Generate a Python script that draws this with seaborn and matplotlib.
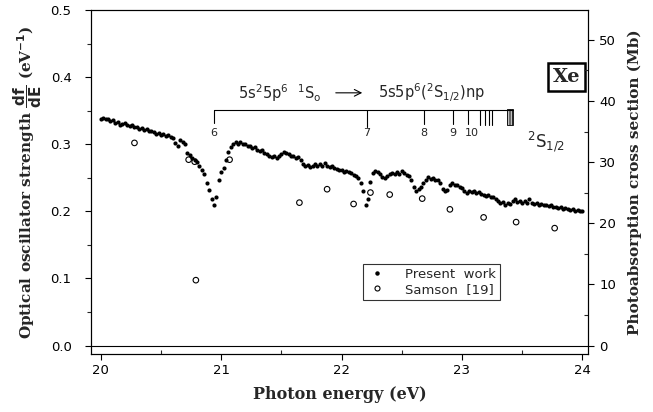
import matplotlib
matplotlib.use("Agg")
import numpy as np
import pandas as pd
import seaborn as sns
import matplotlib.pyplot as plt
from matplotlib.patches import Rectangle
from matplotlib.lines import Line2D
from matplotlib.ticker import MultipleLocator, FormatStrFormatter

# ---------------- data ----------------
energy = [
    20.00, 20.02, 20.04, 20.06, 20.08, 20.10, 20.12, 20.14, 20.16, 20.18,
    20.20, 20.22, 20.24, 20.26, 20.28, 20.30, 20.32, 20.34, 20.36, 20.38,
    20.40, 20.42, 20.44, 20.46, 20.48, 20.50, 20.52, 20.54, 20.56, 20.58,
    20.60, 20.62, 20.64, 20.66, 20.68, 20.70, 20.72, 20.74, 20.76, 20.78,
    20.80, 20.82, 20.84, 20.86, 20.88, 20.90, 20.92, 20.94, 20.96, 20.98,
    21.00, 21.02, 21.04, 21.06, 21.08, 21.10, 21.12, 21.14, 21.16, 21.18,
    21.20, 21.22, 21.24, 21.26, 21.28, 21.30, 21.32, 21.34, 21.36, 21.38,
    21.40, 21.42, 21.44, 21.46, 21.48, 21.50, 21.52, 21.54, 21.56, 21.58,
    21.60, 21.62, 21.64, 21.66, 21.68, 21.70, 21.72, 21.74, 21.76, 21.78,
    21.80, 21.82, 21.84, 21.86, 21.88, 21.90, 21.92, 21.94, 21.96, 21.98,
    22.00, 22.02, 22.04, 22.06, 22.08, 22.10, 22.12, 22.14, 22.16, 22.18,
    22.20, 22.22, 22.24, 22.26, 22.28, 22.30, 22.32, 22.34, 22.36, 22.38,
    22.40, 22.42, 22.44, 22.46, 22.48, 22.50, 22.52, 22.54, 22.56, 22.58,
    22.60, 22.62, 22.64, 22.66, 22.68, 22.70, 22.72, 22.74, 22.76, 22.78,
    22.80, 22.82, 22.84, 22.86, 22.88, 22.90, 22.92, 22.94, 22.96, 22.98,
    23.00, 23.02, 23.04, 23.06, 23.08, 23.10, 23.12, 23.14, 23.16, 23.18,
    23.20, 23.22, 23.24, 23.26, 23.28, 23.30, 23.32, 23.34, 23.36, 23.38,
    23.40, 23.42, 23.44, 23.46, 23.48, 23.50, 23.52, 23.54, 23.56, 23.58,
    23.60, 23.62, 23.64, 23.66, 23.68, 23.70, 23.72, 23.74, 23.76, 23.78,
    23.80, 23.82, 23.84, 23.86, 23.88, 23.90, 23.92, 23.94, 23.96, 23.98,
    24.00,
]
dfdE = [
    0.338, 0.339, 0.337, 0.338, 0.335, 0.336, 0.332, 0.333, 0.329, 0.330,
    0.332, 0.329, 0.327, 0.328, 0.325, 0.326, 0.323, 0.324, 0.321, 0.322,
    0.319, 0.320, 0.318, 0.316, 0.317, 0.314, 0.315, 0.313, 0.314, 0.311,
    0.310, 0.302, 0.297, 0.306, 0.304, 0.300, 0.287, 0.284, 0.279, 0.276,
    0.273, 0.268, 0.262, 0.256, 0.243, 0.232, 0.218, 0.209, 0.222, 0.246,
    0.258, 0.265, 0.276, 0.288, 0.296, 0.300, 0.303, 0.301, 0.304, 0.300,
    0.301, 0.297, 0.298, 0.295, 0.296, 0.292, 0.290, 0.291, 0.287, 0.285,
    0.283, 0.281, 0.282, 0.279, 0.283, 0.286, 0.289, 0.287, 0.285, 0.282,
    0.283, 0.280, 0.281, 0.277, 0.270, 0.267, 0.269, 0.266, 0.268, 0.271,
    0.268, 0.270, 0.267, 0.272, 0.268, 0.266, 0.268, 0.264, 0.263, 0.261,
    0.262, 0.259, 0.260, 0.258, 0.257, 0.254, 0.252, 0.249, 0.242, 0.230,
    0.210, 0.218, 0.244, 0.257, 0.260, 0.258, 0.256, 0.251, 0.249, 0.253,
    0.255, 0.257, 0.256, 0.258, 0.256, 0.260, 0.257, 0.254, 0.252, 0.247,
    0.237, 0.231, 0.233, 0.236, 0.242, 0.247, 0.251, 0.248, 0.250, 0.246,
    0.247, 0.242, 0.234, 0.230, 0.232, 0.240, 0.242, 0.239, 0.240, 0.237,
    0.235, 0.230, 0.228, 0.230, 0.229, 0.231, 0.228, 0.229, 0.226, 0.225,
    0.223, 0.224, 0.221, 0.222, 0.219, 0.216, 0.212, 0.214, 0.210, 0.213,
    0.211, 0.216, 0.218, 0.214, 0.216, 0.213, 0.215, 0.212, 0.218, 0.213,
    0.211, 0.212, 0.210, 0.211, 0.209, 0.210, 0.208, 0.209, 0.206, 0.207,
    0.205, 0.206, 0.204, 0.205, 0.203, 0.202, 0.203, 0.201, 0.202, 0.200,
    0.201,
]
samson_energy = [20.28, 20.73, 20.78, 20.79, 21.07, 21.65, 21.88, 22.10,
                 22.24, 22.40, 22.67, 22.90, 23.18, 23.45, 23.77]
samson_dfdE = [0.302, 0.277, 0.274, 0.0975, 0.277, 0.213, 0.233, 0.211,
               0.228, 0.225, 0.219, 0.203, 0.191, 0.184, 0.175]

series_labels = ["6", "7", "8", "9", "10"]
series_energy = [20.941, 22.212, 22.686, 22.926, 23.051]
series_extra = [23.150, 23.192, 23.225, 23.250]
series_limit = [23.375, 23.425]

MB_PER_EV = 109.76

# ---------------- style ----------------
sns.set_theme(style="ticks")
plt.rcParams["font.family"] = ["DejaVu Sans"]
plt.rcParams["mathtext.fontset"] = "dejavusans"
plt.rcParams["axes.linewidth"] = 0.8
plt.rcParams["axes.edgecolor"] = "black"

fig = plt.figure(figsize=(6.53, 4.12), dpi=100)
ax = fig.add_axes([91 / 653, 1 - 354 / 412, (588 - 91) / 653, (354 - 10) / 412])

df = pd.DataFrame({"E": energy, "f": dfdE})
sns.scatterplot(data=df, x="E", y="f", ax=ax, color="black", s=9,
                linewidth=0, marker="o", legend=False, zorder=3)
sam = pd.DataFrame({"E": samson_energy, "f": samson_dfdE})
sns.scatterplot(data=sam, x="E", y="f", ax=ax, color="black", s=16,
                linewidth=0.8, marker="o", legend=False, zorder=3)
ax.collections[-1].set_facecolor("none")
ax.collections[-1].set_edgecolor("black")

ylo, yhi = -0.0125, 0.5
ax.set_xlim(19.919, 24.047)
ax.set_ylim(ylo, yhi)
ax.axhline(0, color="black", lw=0.8, zorder=2)

ax.xaxis.set_major_locator(MultipleLocator(1))
ax.xaxis.set_minor_locator(MultipleLocator(0.5))
ax.yaxis.set_major_locator(MultipleLocator(0.1))
ax.yaxis.set_minor_locator(MultipleLocator(0.05))
ax.yaxis.set_major_formatter(FormatStrFormatter("%.1f"))
ax.tick_params(axis="both", which="major", direction="out", length=4,
               width=0.8, labelsize=9.5, colors="black")
ax.tick_params(axis="x", which="major", pad=3)
ax.tick_params(axis="y", which="major", pad=10)
ax.tick_params(axis="x", which="minor", direction="in", length=3, width=0.8)
ax.tick_params(axis="y", which="minor", direction="out", length=3, width=0.8)
ax.set_xlabel("Photon energy (eV)", fontsize=11.5, fontweight="bold",
              family="DejaVu Serif", labelpad=7)
ax.set_ylabel(r"Optical oscillator strength $\mathbf{\dfrac{df}{dE}}$ (eV$^{\mathbf{-1}}$)",
              fontsize=11, fontweight="bold", family="DejaVu Serif")
ax.yaxis.set_label_coords(-0.095, 0.5)

ax2 = ax.twinx()
ax2.set_ylim(ylo * MB_PER_EV, yhi * MB_PER_EV)
ax2.yaxis.set_major_locator(MultipleLocator(10))
ax2.yaxis.set_minor_locator(MultipleLocator(5))
ax2.tick_params(axis="y", which="major", direction="out", length=4, width=0.8,
                labelsize=9.5, pad=4, colors="black")
ax2.tick_params(axis="y", which="minor", direction="in", length=3, width=0.8)
ax2.set_ylabel("Photoabsorption cross section (Mb)", fontsize=11,
               fontweight="bold", family="DejaVu Serif", rotation=90)
ax2.yaxis.set_label_coords(1.080, 0.5)
ax2.grid(False)

# ---------------- series annotation ----------------
ybar = 0.3515
ax.plot([series_energy[0], series_limit[1]], [ybar, ybar], color="black", lw=0.8)
for i, (lab, e) in enumerate(zip(series_labels, series_energy)):
    bottom = 0.331 if i == 0 else (0.326 if i == 1 else 0.330)
    ax.plot([e, e], [ybar, bottom], color="black", lw=0.8)
    xoff = 0.03 if lab == "10" else 0.0
    ax.text(e + xoff, 0.317, lab, ha="center", va="center", fontsize=8)
for e in series_extra:
    ax.plot([e, e], [ybar, 0.329], color="black", lw=0.8)
plt.rcParams["hatch.linewidth"] = 0.6
ax.add_patch(Rectangle((series_limit[0], 0.329), series_limit[1] - series_limit[0],
                       0.024, fill=False, hatch="||||||||||", lw=0.6, edgecolor="black"))

ax.text(21.142, 0.3766, r"$\mathregular{5s^25p^6\ \ {}^1S_o}$", ha="left",
        va="center", fontsize=10.5)
ax.annotate("", xy=(22.195, 0.3766), xytext=(21.929, 0.3766),
            arrowprops=dict(arrowstyle="->", lw=0.8, color="black"))
ax.text(22.303, 0.3766, r"$\mathregular{5s5p^6(^2S_{1/2})np}$", ha="left",
        va="center", fontsize=10.5)
ax.text(23.54, 0.304, r"$\mathregular{^2S_{1/2}}$", ha="left", va="center",
        fontsize=12)

ax.text(0.956, 0.805, "Xe", transform=ax.transAxes, ha="center", va="center",
        fontsize=14, fontweight="bold", family="DejaVu Serif",
        bbox=dict(boxstyle="square,pad=0.25", fc="white", ec="black", lw=1.8))

# ---------------- legend ----------------
handles = [
    Line2D([], [], marker="o", ls="", color="black", markersize=2.2),
    Line2D([], [], marker="o", ls="", markerfacecolor="none",
           markeredgecolor="black", markersize=3.6, markeredgewidth=0.8),
]
leg = ax.legend(handles, ["Present  work", "Samson  [19]"], loc="upper left",
                bbox_to_anchor=(0.547, 0.262), frameon=True, fancybox=False,
                edgecolor="black", fontsize=9.5, handlelength=1.5,
                handletextpad=1.4, labelspacing=0.15, borderpad=0.3,
                borderaxespad=0)
leg.get_frame().set_linewidth(0.8)

for a in (ax, ax2):
    for sp in a.spines.values():
        sp.set_visible(True)
        sp.set_color("black")
        sp.set_linewidth(0.8)

fig.savefig("out.png", dpi=100)
